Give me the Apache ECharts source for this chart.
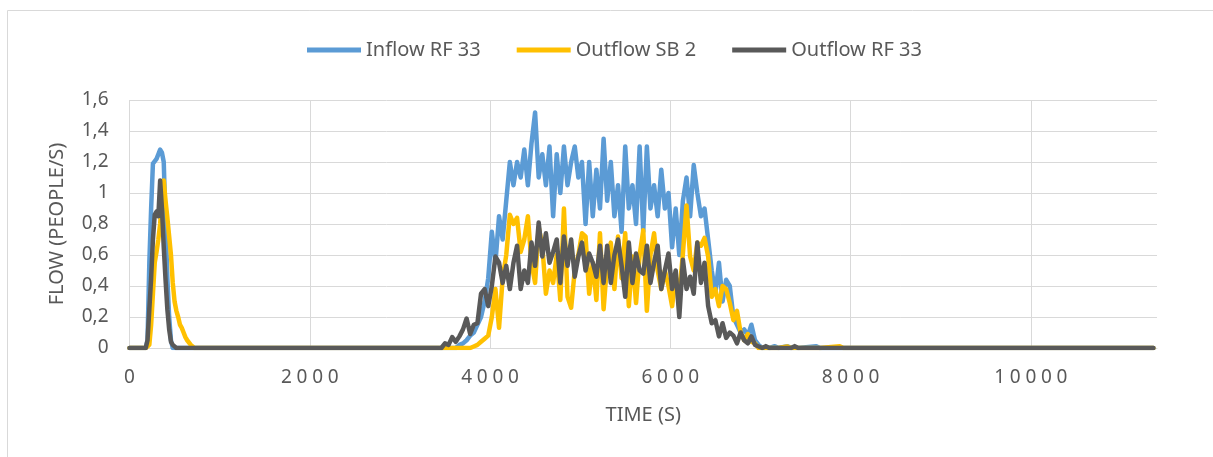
<!DOCTYPE html>
<html>
<head>
<meta charset="utf-8">
<script src="https://cdn.jsdelivr.net/npm/echarts@6/dist/echarts.min.js"></script>
<style>
  html, body { margin: 0; padding: 0; background: #fff; }
  #chart { width: 1213px; height: 457px; }
</style>
</head>
<body>
<div id="chart"></div>
<script>
// 系列名称
const seriesNames = ["Inflow RF 33", "Outflow SB 2", "Outflow RF 33"];

// 第一个峰 (0 - 760 s)
const timeEarly = [180, 200, 220, 240, 260, 280, 300, 320, 340, 360, 380, 400, 420, 440, 460,
  480, 500, 520, 540, 560, 580, 600, 620, 640, 660, 680, 700, 720, 740, 760];
const inflowEarly = [0, 0.05, 0.55, 0.9, 1.19, 1.2, 1.22, 1.25, 1.28, 1.26, 1.2, 0.8, 0.45, 0.2, 0.05,
  0, 0, 0, 0, 0, 0, 0, 0, 0, 0, 0, 0, 0, 0, 0];
const outflowSBEarly = [0, 0, 0.02, 0.15, 0.35, 0.55, 0.62, 0.7, 0.8, 0.95, 1.08, 0.95, 0.84, 0.84, 0.6,
  0.42, 0.3, 0.24, 0.2, 0.15, 0.13, 0.1, 0.07, 0.05, 0.04, 0.02, 0.01, 0, 0, 0];
const outflowRFEarly = [0, 0.05, 0.25, 0.45, 0.7, 0.86, 0.88, 0.85, 1.08, 0.9, 0.65, 0.44, 0.25, 0.12, 0.04,
  0.02, 0.01, 0, 0, 0, 0, 0, 0, 0, 0, 0, 0, 0, 0, 0];

// 第二个峰 (3460 - 7020 s)
const timeMain = [3460, 3500, 3540, 3580, 3620, 3660, 3700, 3740, 3780, 3820, 3860,
  3900, 3940, 3980, 4020, 4060, 4100, 4140, 4180, 4220, 4260,
  4300, 4340, 4380, 4420, 4460, 4500, 4540, 4580, 4620, 4660,
  4700, 4740, 4780, 4820, 4860, 4900, 4940, 4980, 5020, 5060,
  5100, 5140, 5180, 5220, 5260, 5300, 5340, 5380, 5420, 5460,
  5500, 5540, 5580, 5620, 5660, 5700, 5740, 5780, 5820, 5860,
  5900, 5940, 5980, 6020, 6060, 6100, 6140, 6180, 6220, 6260,
  6300, 6340, 6380, 6420, 6460, 6500, 6540, 6580, 6620, 6660,
  6700, 6740, 6780, 6820, 6860, 6900, 6940, 6980, 7020];
const inflowMain = [0, 0, 0, 0, 0, 0.02, 0.03, 0.05, 0.08, 0.1, 0.15,
  0.2, 0.3, 0.45, 0.75, 0.55, 0.85, 0.7, 0.95, 1.2, 1.05,
  1.2, 1.1, 1.28, 1.05, 1.32, 1.52, 1.1, 1.25, 1.05, 1.3,
  0.85, 1.25, 1.0, 1.3, 1.05, 1.2, 1.3, 1.1, 1.2, 0.8,
  1.2, 0.85, 1.15, 0.9, 1.35, 0.95, 1.2, 0.85, 1.05, 0.75,
  1.3, 0.9, 1.05, 0.8, 1.3, 0.75, 1.3, 0.9, 1.05, 0.85,
  1.15, 0.9, 1.0, 0.65, 0.9, 0.6, 0.95, 1.1, 0.85, 1.18,
  1.0, 0.85, 0.9, 0.7, 0.5, 0.35, 0.55, 0.3, 0.44, 0.4,
  0.2, 0.15, 0.1, 0.12, 0.08, 0.15, 0.05, 0.02, 0];
const outflowSBMain = [0, 0, 0, 0, 0, 0, 0, 0, 0, 0.01, 0.02,
  0.04, 0.06, 0.08, 0.2, 0.38, 0.13, 0.45, 0.6, 0.86, 0.8,
  0.84, 0.62, 0.7, 0.85, 0.55, 0.42, 0.78, 0.66, 0.35, 0.5,
  0.42, 0.6, 0.31, 0.9, 0.33, 0.26, 0.5, 0.6, 0.74, 0.72,
  0.35, 0.55, 0.31, 0.74, 0.25, 0.55, 0.68, 0.38, 0.72, 0.45,
  0.74, 0.27, 0.59, 0.29, 0.6, 0.76, 0.24, 0.6, 0.74, 0.5,
  0.38, 0.5, 0.4, 0.27, 0.46, 0.35, 0.61, 0.92, 0.59, 0.5,
  0.68, 0.66, 0.71, 0.59, 0.33, 0.38, 0.27, 0.4, 0.38, 0.29,
  0.18, 0.24, 0.1, 0.05, 0.09, 0.04, 0.03, 0, 0];
const outflowRFMain = [0, 0.03, 0.02, 0.07, 0.04, 0.075, 0.12, 0.19, 0.09, 0.15, 0.16,
  0.35, 0.38, 0.27, 0.4, 0.59, 0.55, 0.42, 0.53, 0.38, 0.55,
  0.66, 0.38, 0.5, 0.42, 0.68, 0.53, 0.81, 0.59, 0.74, 0.55,
  0.62, 0.7, 0.42, 0.72, 0.53, 0.7, 0.46, 0.59, 0.68, 0.5,
  0.61, 0.55, 0.46, 0.66, 0.42, 0.66, 0.42, 0.6, 0.7, 0.53,
  0.33, 0.68, 0.42, 0.61, 0.5, 0.48, 0.66, 0.42, 0.55, 0.66,
  0.38, 0.5, 0.61, 0.38, 0.5, 0.2, 0.57, 0.38, 0.46, 0.35,
  0.68, 0.42, 0.55, 0.27, 0.16, 0.18, 0.075, 0.16, 0.065, 0.1,
  0.08, 0.03, 0.1, 0.05, 0.03, 0.075, 0.02, 0.01, 0];

// 结尾 (几乎为 0)
const timeTail = [7060, 7100, 7160, 7200, 7300, 7340, 7380, 7420, 7620, 7660, 7880, 7920, 11360];
const inflowTail = [0, 0, 0.012, 0, 0.012, 0, 0, 0, 0.012, 0, 0, 0, 0];
const outflowSBTail = [0, 0, 0, 0, 0.01, 0, 0, 0, 0, 0, 0.012, 0, 0];
const outflowRFTail = [0.012, 0, 0, 0, 0, 0, 0.012, 0, 0, 0, 0, 0, 0];

// 坐标轴
const xMax = 11400;
const xInterval = 2000;
const yMax = 1.6;
const yInterval = 0.2;

const times = [0].concat(timeEarly, timeMain, timeTail);
const inflow = [0].concat(inflowEarly, inflowMain, inflowTail);
const outflowSB = [0].concat(outflowSBEarly, outflowSBMain, outflowSBTail);
const outflowRF = [0].concat(outflowRFEarly, outflowRFMain, outflowRFTail);

function pairs(values) {
  return times.map((t, i) => [t, values[i]]);
}

const textColor = "#595959";
const fontFamily = "Noto Sans";

let myChart = echarts.init(document.getElementById("chart"));
myChart.setOption({
  animation: false,
  color: ["#5B9BD5", "#FFC000", "#595959"],
  textStyle: { fontFamily: fontFamily },
  graphic: [
    {
      type: "rect",
      shape: { x: 7.5, y: 10.5, width: 1300, height: 500 },
      style: { fill: "none", stroke: "#d9d9d9", lineWidth: 1 },
    },
  ],
  legend: {
    top: 35,
    left: 302,
    icon: "rect",
    itemWidth: 54,
    itemHeight: 5,
    itemGap: 36,
    textStyle: { color: textColor, fontSize: 20, fontFamily: fontFamily },
    data: seriesNames,
  },
  grid: {
    left: 129.5,
    right: 56,
    top: 100,
    bottom: 109,
  },
  xAxis: {
    type: "value",
    min: 0,
    max: xMax,
    interval: xInterval,
    name: "TIME (S)",
    nameLocation: "middle",
    nameGap: 57,
    nameTextStyle: { color: textColor, fontSize: 20, fontFamily: fontFamily },
    axisLine: { show: true, lineStyle: { color: "#d9d9d9" } },
    axisTick: { show: false },
    //修改刻度标签
    axisLabel: {
      color: textColor,
      fontSize: 19,
      fontFamily: fontFamily,
      margin: 20,
      showMaxLabel: false,
      formatter: (v) => (v >= xMax ? "" : String(v).split("").join("\u2005")),
    },
    splitLine: { show: true, showMaxLine: false, lineStyle: { color: "#d9d9d9", width: 1 } },
  },
  yAxis: {
    type: "value",
    min: 0,
    max: yMax,
    interval: yInterval,
    name: "FLOW (PEOPLE/S)",
    nameLocation: "middle",
    nameGap: 62,
    nameTextStyle: { color: textColor, fontSize: 20, fontFamily: fontFamily },
    axisLine: { show: false },
    axisTick: { show: false },
    axisLabel: {
      color: textColor,
      fontSize: 19,
      fontFamily: fontFamily,
      margin: 21,
      formatter: (v) => String(parseFloat(v.toFixed(1))).replace(".", ","),
    },
    //分割线样式
    splitLine: { lineStyle: { color: "#d9d9d9", width: 1 } },
  },
  series: [
    {
      name: seriesNames[0],
      type: "line",
      data: pairs(inflow),
      showSymbol: false,
      lineStyle: { width: 4.5, cap: "round", join: "round" },
    },
    {
      name: seriesNames[1],
      type: "line",
      data: pairs(outflowSB),
      showSymbol: false,
      lineStyle: { width: 4.5, cap: "round", join: "round" },
    },
    {
      name: seriesNames[2],
      type: "line",
      data: pairs(outflowRF),
      showSymbol: false,
      lineStyle: { width: 4.5, cap: "round", join: "round" },
    },
  ],
});

window.addEventListener("resize", () => {
  myChart.resize();
});
</script>
</body>
</html>
